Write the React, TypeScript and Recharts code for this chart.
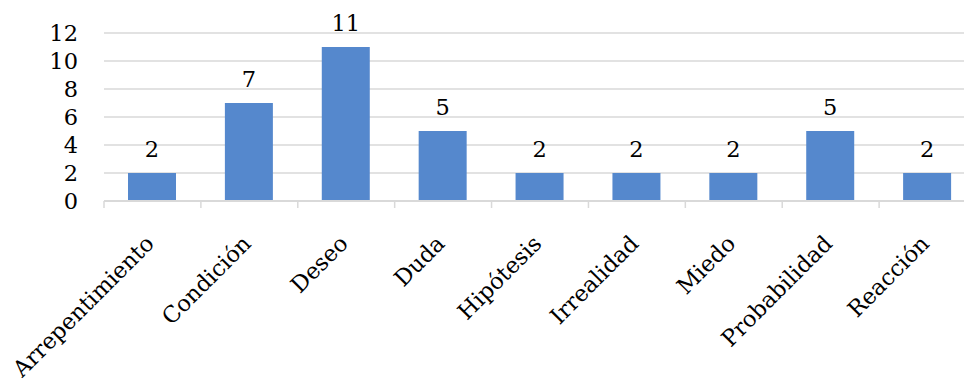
import { BarChart, Bar, XAxis, YAxis, CartesianGrid, LabelList } from "recharts";

const categories = [
  "Arrepentimiento",
  "Condición",
  "Deseo",
  "Duda",
  "Hipótesis",
  "Irrealidad",
  "Miedo",
  "Probabilidad",
  "Reacción",
];
const counts = [2, 7, 11, 5, 2, 2, 2, 5, 2];
const yTicks = [0, 2, 4, 6, 8, 10, 12];

const data = categories.map((name, i) => ({ name, value: counts[i] }));

const FONT = "'DejaVu Serif', serif";
const FS = 22.5;
const W = 976;
const LEFT = 104;
const BAND = (W - LEFT) / categories.length;

function CategoryTick(props: any) {
  const { x, y, payload } = props;
  const ax = x + 3;
  const ay = y + 44;
  const left = x - BAND / 2;
  return (
    <g>
      <line x1={left} x2={left} y1={y} y2={y + 7} stroke="#d9d9d9" strokeWidth={1.5} />
      <text
        x={ax}
        y={ay}
        textAnchor="end"
        transform={`rotate(-45, ${ax}, ${ay})`}
        fontFamily={FONT}
        fontSize={FS}
        fill="#000"
      >
        {payload.value}
      </text>
    </g>
  );
}

export default function App() {
  return (
    <div style={{ position: "absolute", left: 0, top: 0, width: 964, height: 383, overflow: "hidden", background: "#fff" }}>
      <BarChart width={W} height={383} data={data} margin={{ top: 33, right: 0, bottom: 0, left: 0 }}>
        <CartesianGrid vertical={false} stroke="#d9d9d9" strokeWidth={1.5} />
        <XAxis
          dataKey="name"
          height={182}
          interval={0}
          axisLine={{ stroke: "#d9d9d9", strokeWidth: 2 }}
          tickLine={false}
          tickSize={0}
          tickMargin={0}
          tick={<CategoryTick />}
        />
        <YAxis
          width={LEFT}
          domain={[0, 12]}
          ticks={yTicks}
          interval={0}
          axisLine={false}
          tickLine={false}
          tickSize={0}
          tickMargin={26}
          tick={{ fontFamily: FONT, fontSize: FS, fill: "#000" }}
        />
        <Bar dataKey="value" fill="#5588cd" barSize={48} isAnimationActive={false}>
          <LabelList dataKey="value" position="top" offset={16} style={{ fontFamily: FONT, fontSize: FS, fill: "#000" }} />
        </Bar>
      </BarChart>
    </div>
  );
}
